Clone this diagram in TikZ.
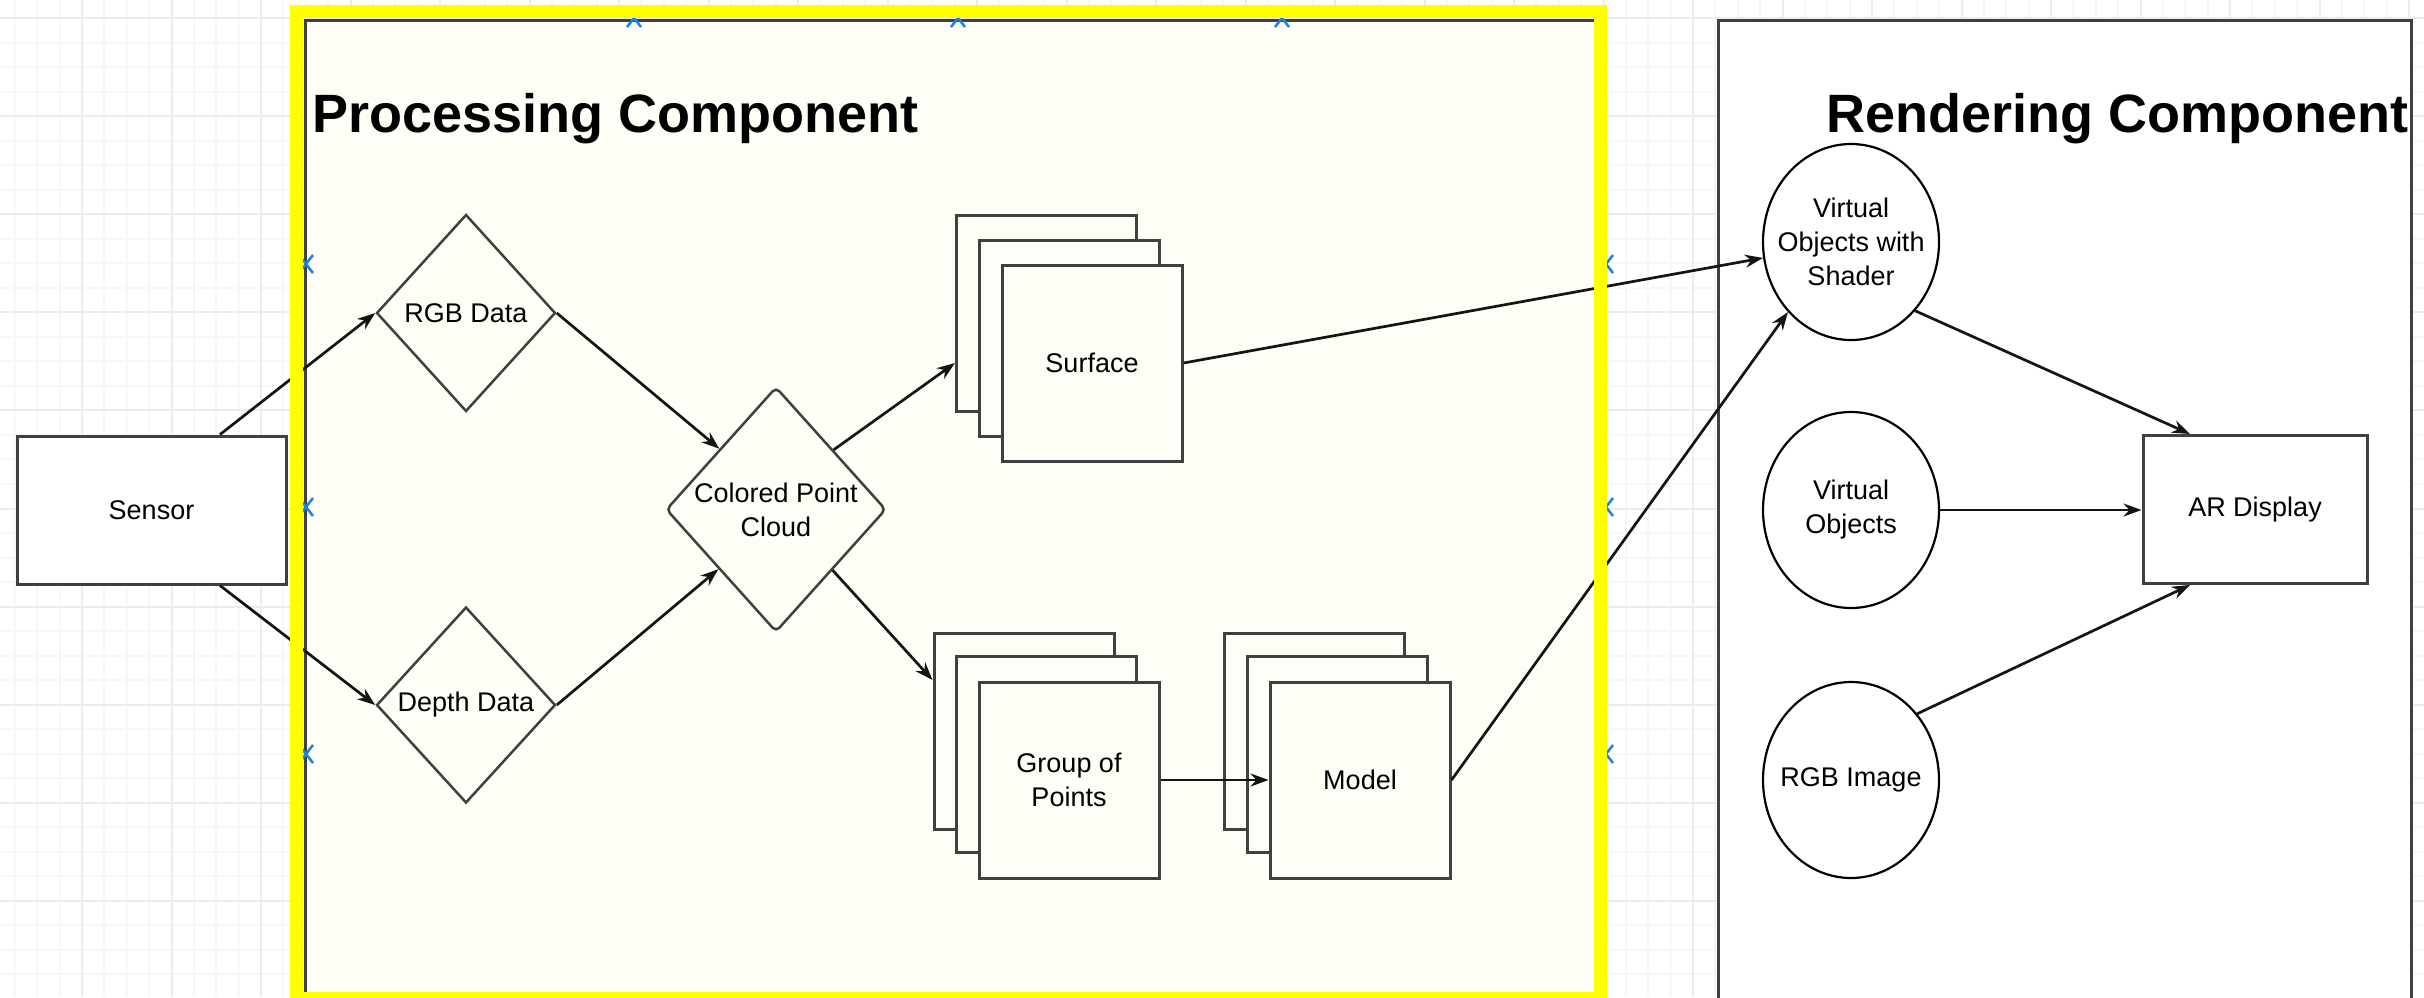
\documentclass[tikz,border=0pt]{standalone}
\usepackage{fontspec}
\setmainfont{Liberation Sans}
\usetikzlibrary{shapes.geometric,arrows.meta,calc}

\definecolor{cream}{RGB}{254,254,247}
\definecolor{edgegray}{RGB}{64,64,64}
\definecolor{lnk}{RGB}{20,20,20}
\definecolor{gridmin}{RGB}{247,247,247}
\definecolor{gridmaj}{RGB}{236,236,236}
\definecolor{hl}{RGB}{255,255,0}
\definecolor{mk}{RGB}{30,128,235}

\begin{document}
\begin{tikzpicture}[x=1pt,y=-1pt,
  lbl/.style={font=\fontsize{27}{34}\selectfont, align=center, text=black},
  boxn/.style={draw=edgegray, line width=3pt, fill=cream, inner sep=0pt,
               minimum width=180pt, minimum height=196pt, lbl},
  dia/.style={diamond, draw=edgegray, line width=2.5pt, fill=cream, inner sep=0pt, lbl},
  circ/.style={ellipse, draw=black, line width=2.2pt, fill=white, inner xsep=-16pt, inner ysep=0pt,
               minimum width=176pt, minimum height=196pt, lbl},
  conn/.style={draw=lnk, line width=2.7pt, -{Stealth[length=18pt,width=13pt]}},
  ttl/.style={font=\fontsize{54}{60}\selectfont\bfseries, anchor=base west, inner sep=0pt},
  mkr/.style={draw=mk, line width=2.5pt},
  minorline/.style={draw=gridmin, line width=2pt},
  majorline/.style={draw=gridmaj, line width=2pt},
]
\useasboundingbox (0,0) rectangle (2424,997);
\fill[white] (0,0) rectangle (2424,997);

% background grid
\foreach \i in {0,...,107} { \draw[minorline] ({14.875+22.375*\i},0) -- ({14.875+22.375*\i},997); }
\foreach \j in {0,...,40} { \draw[minorline] (0,{18+24.525*\j}) -- (2424,{18+24.525*\j}); }
\foreach \i in {0,...,26} { \draw[majorline] ({82+89.5*\i},0) -- ({82+89.5*\i},997); }
\foreach \j in {0,...,10} { \draw[majorline] (0,{18+98.1*\j}) -- (2424,{18+98.1*\j}); }

% containers
\draw[draw=edgegray, fill=cream, line width=3pt] (305,20) rectangle (1600,1003);
\draw[draw=edgegray, fill=white, line width=3pt] (1718.5,20) rectangle (2411,1010);

\node[ttl] (ptitle) at (312,132) {Processing Component};
\node[ttl] (rtitle) at (1826,132) {Rendering Component};

% nodes
\node[draw=edgegray, line width=3pt, fill=white, minimum width=269pt, minimum height=148pt,
      inner sep=0pt, lbl] (sensor) at (151.5,510) {Sensor};

\node[dia, minimum width=179pt, minimum height=197pt] (rgb) at (466,313) {RGB Data};
\node[dia, minimum width=179pt, minimum height=196pt] (depth) at (466,705) {Depth Data};
\node[dia, minimum width=220pt, minimum height=245pt, rounded corners=5pt] (cpc) at (776,509.5) {Colored Point\\Cloud};

\node[boxn] (surf3) at (1046.5,313) {};
\node[boxn] (surf2) at (1069,338) {};
\node[boxn] (surf1) at (1092,363) {Surface};

\node[boxn] (grp3) at (1024,731) {};
\node[boxn] (grp2) at (1046.5,754.5) {};
\node[boxn] (grp1) at (1069,780) {Group of\\Points};

\node[boxn] (mod3) at (1314.5,731) {};
\node[boxn] (mod2) at (1337.5,754.5) {};
\node[boxn] (mod1) at (1360,780) {Model};

\node[circ] (vows) at (1851,242) {Virtual\\Objects with\\Shader};
\node[circ] (vo) at (1851,510) {Virtual\\Objects};
\node[circ] (rgbimg) at (1851,780) {RGB Image};

\node[draw=edgegray, line width=3pt, fill=white, minimum width=224pt, minimum height=148pt,
      inner sep=0pt, lbl] (ar) at (2255,509.5) {AR Display};

% connectors
\draw[conn] ([xshift=68.5pt]sensor.north) -- (rgb.west);
\draw[conn] ([xshift=68.5pt]sensor.south) -- (depth.west);
\draw[conn] (rgb.east) -- (cpc.133);
\draw[conn] (depth.east) -- (cpc.-134);
\draw[conn] (cpc.46) -- ([yshift=-50pt]surf3.west);
\draw[conn] (cpc.-47) -- ([yshift=51pt]grp3.west);
\draw[conn] (surf1.east) -- (vows);
\draw[conn] (grp1.east) -- (mod1.west);
\draw[conn] (mod1.east) -- (vows.-132);
\draw[conn] (vows.-47) -- ([xshift=-65pt]ar.north);
\draw[conn] (vo.east) -- (vo.east -| ar.west);
\draw[conn] (rgbimg.45) -- ([xshift=-65pt]ar.south);

% selection markers
\foreach \mx/\my in {634/18, 958/18, 1282/18, 306/264, 306/507, 306/754, 1606/264, 1606/507, 1606/754} {
  \draw[mkr] ({\mx-7},{\my-9}) -- ({\mx+7},{\my+9}) ({\mx-7},{\my+9}) -- ({\mx+7},{\my-9});
}

% selection highlight
\draw[draw=hl, line width=13pt] (296.5,11.5) rectangle (1600.5,998.5);
\end{tikzpicture}
\end{document}
